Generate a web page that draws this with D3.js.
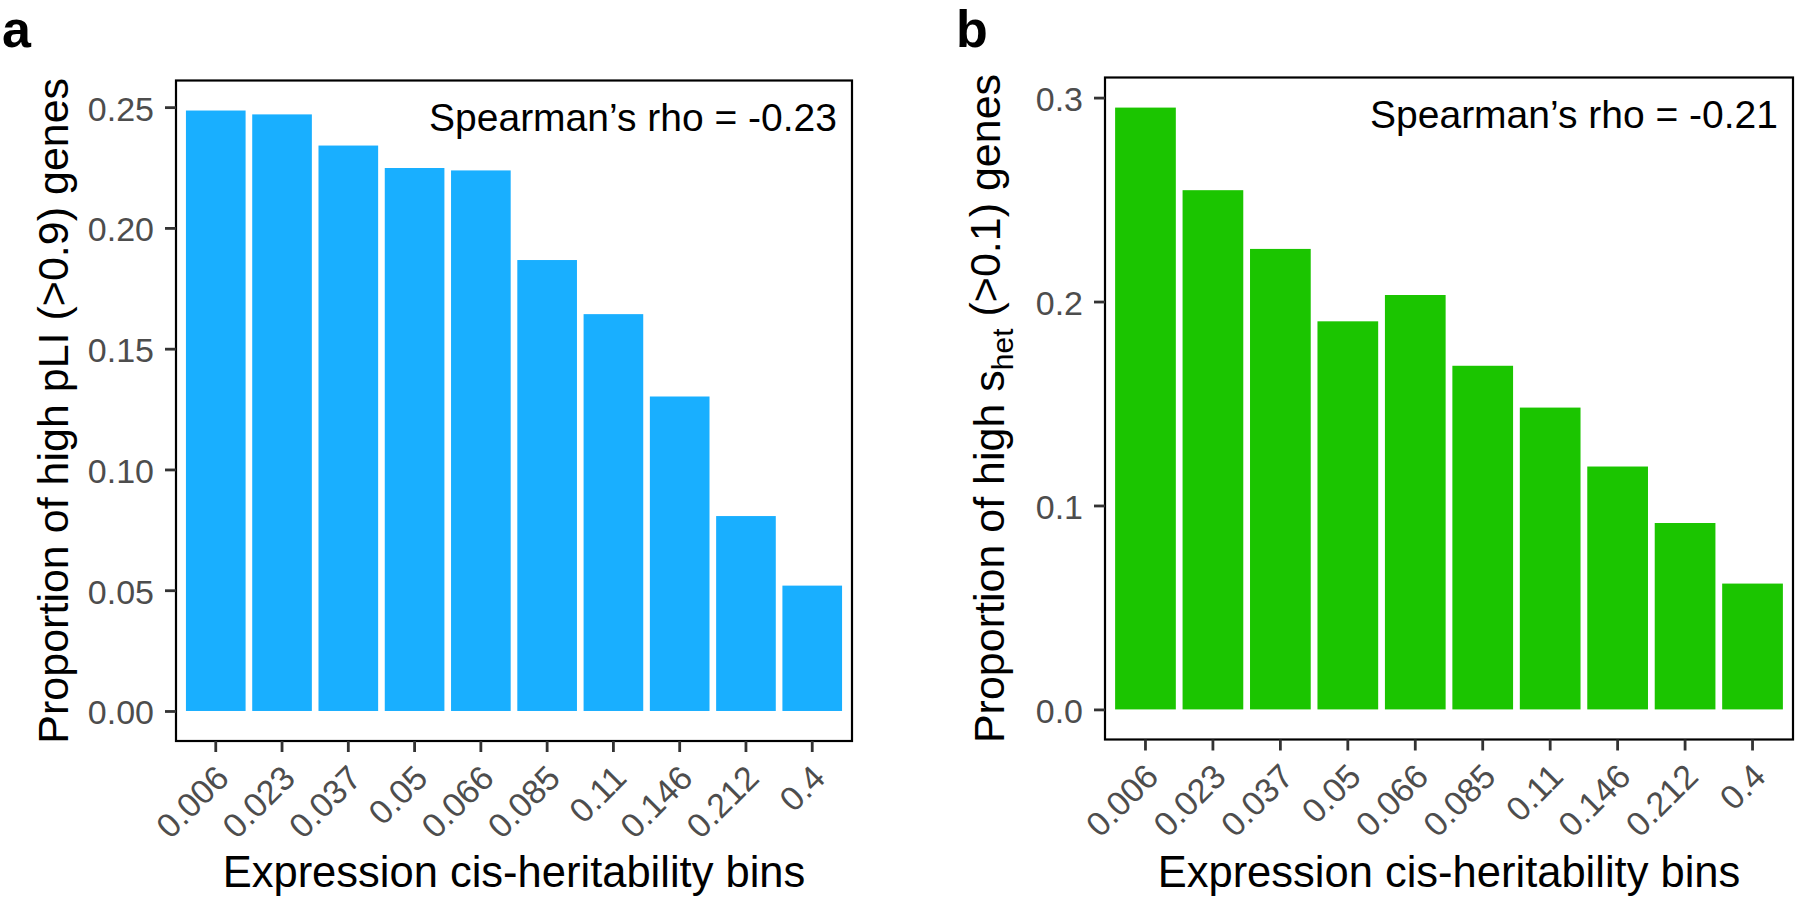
<!DOCTYPE html>
<html>
<head>
<meta charset="utf-8">
<script src="https://cdn.jsdelivr.net/npm/d3@7"></script>
<style>
  html, body { margin: 0; padding: 0; background: #fff; }
  svg { display: block; font-family: "Liberation Sans", Arial, Helvetica, sans-serif; }
</style>
</head>
<body>
<svg id="chart" width="1800" height="900"></svg>
<script>
// ---- data ----
const categories = ["0.006", "0.023", "0.037", "0.05", "0.066", "0.085", "0.11", "0.146", "0.212", "0.4"];
const pliValues  = [0.2486, 0.2470, 0.2341, 0.2248, 0.2238, 0.1867, 0.1643, 0.1302, 0.0807, 0.0519];
const shetValues = [0.2951, 0.2546, 0.2258, 0.1903, 0.2032, 0.1685, 0.1480, 0.1191, 0.0914, 0.0617];
const pliTicks   = [0, 0.05, 0.10, 0.15, 0.20, 0.25];
const shetTicks  = [0, 0.1, 0.2, 0.3];
const panelLetters = ["a", "b"];
const rhoLabels  = ["Spearman\u2019s rho = -0.23", "Spearman\u2019s rho = -0.21"];
const xTitle = "Expression cis-heritability bins";

// ---- drawing ----
const svg = d3.select("#chart");

function drawPanel(cfg) {
  const g = svg.append("g");
  const x = d3.scaleBand().domain(categories).range([cfg.left, cfg.right])
    .paddingInner(0.1).paddingOuter(0.15);
  const maxV = d3.max(cfg.values);
  const y = d3.scaleLinear().domain([-0.05 * maxV, maxV * 1.05]).range([cfg.bottom, cfg.top]);

  // bars
  g.selectAll("rect.bar").data(cfg.values).join("rect")
    .attr("class", "bar")
    .attr("x", (d, i) => x(categories[i]))
    .attr("width", x.bandwidth())
    .attr("y", d => y(d))
    .attr("height", d => y(0) - y(d))
    .attr("fill", cfg.color);

  // panel border
  g.append("rect")
    .attr("x", cfg.left).attr("y", cfg.top)
    .attr("width", cfg.right - cfg.left).attr("height", cfg.bottom - cfg.top)
    .attr("fill", "none").attr("stroke", "#000").attr("stroke-width", 2.2);

  // y axis
  const yAxis = d3.axisLeft(y).tickValues(cfg.ticks).tickFormat(d3.format(cfg.fmt))
    .tickSize(11).tickPadding(11);
  const ya = g.append("g").attr("transform", `translate(${cfg.left},0)`).call(yAxis);
  ya.select(".domain").remove();
  ya.selectAll(".tick line").attr("stroke", "#333").attr("stroke-width", 2.8);
  ya.selectAll(".tick text").attr("fill", "#4D4D4D").style("font-size", "34px")
    .attr("dy", "0.38em").style("font-family", "'Liberation Sans', Arial, sans-serif");

  // x axis
  const xAxis = d3.axisBottom(x).tickSize(11).tickPadding(0);
  const xa = g.append("g").attr("transform", `translate(0,${cfg.bottom})`).call(xAxis);
  xa.select(".domain").remove();
  xa.selectAll(".tick line").attr("stroke", "#333").attr("stroke-width", 2.8);
  xa.selectAll(".tick text").attr("fill", "#4D4D4D").style("font-size", "34px")
    .style("font-family", "'Liberation Sans', Arial, sans-serif")
    .attr("text-anchor", "end").attr("dy", null).attr("y", null)
    .attr("transform", "translate(15,39) rotate(-45)");

  // annotation
  g.append("text").attr("x", cfg.right - 15).attr("y", cfg.top + 50)
    .attr("text-anchor", "end").style("font-size", "39px").attr("fill", "#000")
    .text(cfg.rho);

  // x title
  g.append("text").attr("x", (cfg.left + cfg.right) / 2).attr("y", 887)
    .attr("text-anchor", "middle").style("font-size", "43.5px").attr("fill", "#000")
    .text(xTitle);

  // y title
  const yt = g.append("text")
    .attr("transform", `translate(${cfg.yTitleX},${(cfg.top + cfg.bottom) / 2}) rotate(-90)`)
    .attr("text-anchor", "middle").style("font-size", "43px").attr("fill", "#000");
  cfg.yTitle(yt);

  // panel letter
  svg.append("text").attr("x", cfg.letterX).attr("y", 47)
    .style("font-size", "52px").style("font-weight", "bold").attr("fill", "#000")
    .text(cfg.letter);
}

drawPanel({
  left: 176, right: 852, top: 80.5, bottom: 741,
  values: pliValues, ticks: pliTicks, fmt: ".2f", color: "#19AFFF",
  rho: rhoLabels[0], letter: panelLetters[0], letterX: 2, yTitleX: 68,
  yTitle: t => t.text("Proportion of high pLI (>0.9) genes")
});

drawPanel({
  left: 1105, right: 1793, top: 77.5, bottom: 739.5,
  values: shetValues, ticks: shetTicks, fmt: ".1f", color: "#1BC500",
  rho: rhoLabels[1], letter: panelLetters[1], letterX: 956, yTitleX: 1004,
  yTitle: t => {
    t.append("tspan").text("Proportion of high s");
    t.append("tspan").attr("dy", "0.3em").style("font-size", "30px").text("het");
    t.append("tspan").attr("dy", "-0.3em").text(" (>0.1) genes");
  }
});
</script>
</body>
</html>
